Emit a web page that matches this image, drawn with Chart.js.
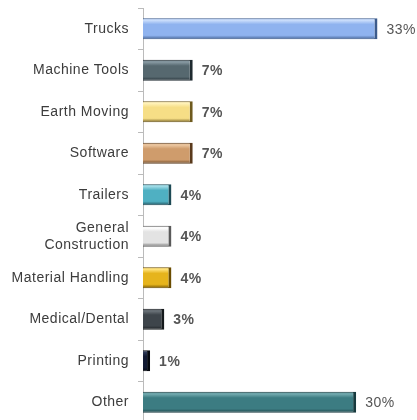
<!DOCTYPE html>
<html>
<head>
<meta charset="utf-8">
<script src="https://cdn.jsdelivr.net/npm/chart.js@4/dist/chart.umd.min.js"></script>
<style>
  html, body { margin: 0; padding: 0; background: #fff; overflow: hidden; }
  #wrap { width: 417px; height: 423px; position: relative; }
</style>
</head>
<body>
<div id="wrap"><canvas id="c"></canvas></div>
<script>
// Market segments and their share of the total (%)
const categories = [
  'Trucks', 'Machine Tools', 'Earth Moving', 'Software', 'Trailers',
  ['General', 'Construction'], 'Material Handling', 'Medical/Dental', 'Printing', 'Other'
];
const shares = [33, 7, 7, 7, 4, 4, 4, 3, 1, 30];

// Base colour per bar: [light top, body, dark edge]
const barColors = [
  ['#c9ddfb', '#8fb3ef', '#3c5b8c'],
  ['#8a9ca5', '#56686f', '#1f2a30'],
  ['#fff2b8', '#f6de86', '#6e5a1e'],
  ['#ecc8a2', '#cf9c6c', '#5a3a1c'],
  ['#9fdbe6', '#4fb0c2', '#1d4a55'],
  ['#ffffff', '#e3e3e3', '#5a5a5a'],
  ['#ffe27a', '#e6b41c', '#6a4c00'],
  ['#6c747a', '#3e454b', '#15191c'],
  ['#2c3856', '#121a33', '#05080f'],
  ['#74abb0', '#3c7c82', '#173a3e']
];

function barGradient(ctx) {
  const chart = ctx.chart;
  const i = ctx.dataIndex;
  const c = barColors[i || 0];
  const yScale = chart.scales && chart.scales.y;
  if (!yScale || i === undefined) return c[1];
  const cy = yScale.getPixelForValue(i);
  if (!isFinite(cy)) return c[1];
  const h = 22;
  const g = chart.ctx.createLinearGradient(0, cy - h / 2, 0, cy + h / 2);
  g.addColorStop(0, c[1]);
  g.addColorStop(0.12, c[0]);
  g.addColorStop(0.3, c[1]);
  g.addColorStop(0.8, c[1]);
  g.addColorStop(1, c[2]);
  return g;
}

// Slightly open letter spacing for all text on the canvas
const spacing = {
  id: 'spacing',
  beforeDraw(chart) { chart.ctx.letterSpacing = '0.5px'; }
};

// Percentage labels at the end of each bar
const valueLabels = {
  id: 'valueLabels',
  afterDatasetsDraw(chart) {
    const ctx = chart.ctx;
    const meta = chart.getDatasetMeta(0);
    ctx.save();
    ctx.letterSpacing = '0.5px';
    ctx.fillStyle = '#555555';
    ctx.textAlign = 'left';
    ctx.textBaseline = 'middle';
    meta.data.forEach((bar, i) => {
      const big = shares[i] >= 20;
      ctx.font = (big ? '' : 'bold ') + '14px "Liberation Sans", Arial, sans-serif';
      ctx.fillText(shares[i] + '%', bar.x + 9, bar.y + 1);
    });
    ctx.restore();
  }
};

new Chart(document.getElementById('c'), {
  type: 'bar',
  data: {
    labels: categories,
    datasets: [{
      data: shares,
      backgroundColor: barGradient,
      borderColor: barColors.map(c => c[2]),
      borderWidth: { top: 1, bottom: 1, left: 0, right: 3 },
      borderSkipped: false,
      categoryPercentage: 1,
      barPercentage: 0.51
    }]
  },
  options: {
    indexAxis: 'y',
    responsive: true,
    maintainAspectRatio: false,
    animation: false,
    layout: { padding: { top: 8, bottom: 0, left: 0, right: 4 } },
    plugins: { legend: { display: false }, tooltip: { enabled: false } },
    scales: {
      x: {
        display: false,
        min: 0,
        max: 38
      },
      y: {
        afterFit(scale) {
          scale.width = 143;
          scale.paddingTop = 0;
          scale.paddingBottom = 0;
        },
        grid: {
          drawOnChartArea: false,
          drawTicks: true,
          tickLength: 5,
          color: '#bbbbbb',
          offset: true
        },
        border: { display: true, color: '#bbbbbb', width: 1 },
        ticks: {
          color: '#3c3c3c',
          padding: 9,
          font: { family: '"Liberation Sans", Arial, sans-serif', size: 14 }
        }
      }
    }
  },
  plugins: [spacing, valueLabels]
});
</script>
</body>
</html>
